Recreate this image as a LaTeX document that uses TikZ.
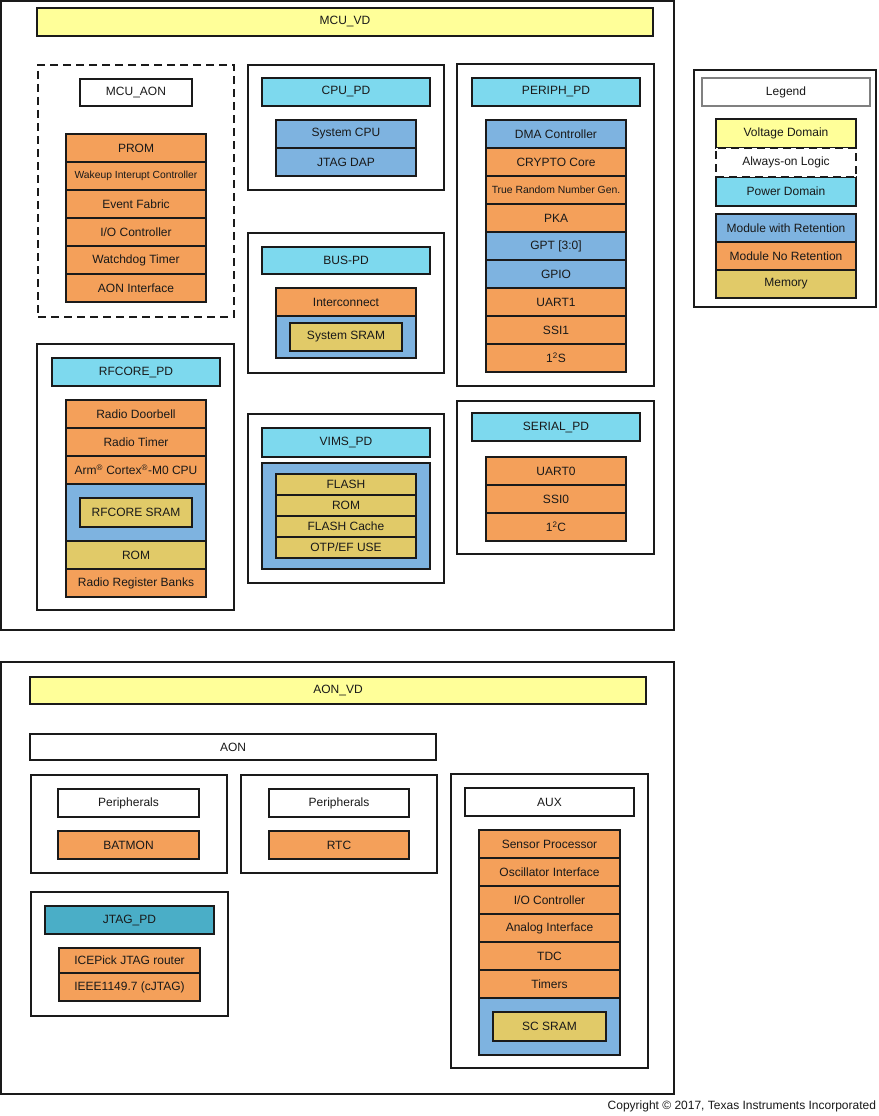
\documentclass[tikz,border=0pt]{standalone}
\usepackage{fontspec}
\setmainfont{Liberation Sans}
\definecolor{ln}{HTML}{1A1A1A}
\definecolor{vdc}{HTML}{FFFF99}
\definecolor{pdc}{HTML}{7DD9EE}
\definecolor{retc}{HTML}{7EB3E0}
\definecolor{norc}{HTML}{F4A05A}
\definecolor{memc}{HTML}{E1CA68}
\definecolor{jtc}{HTML}{4AAEC7}
\newcommand\bx[7][]{\node[#1, minimum width={(#4-#2)*1pt}, minimum height={(#5-#3)*1pt}] (#6) at ({(#2+#4)/2},{(#3+#5)/2}) {#7};}
\begin{document}
\begin{tikzpicture}[x=1pt,y=-1pt,
 every node/.style={inner sep=0pt, outer sep=0pt, font=\fontsize{12}{14}\selectfont, text=black!90},
 bx/.style={draw=ln, line width=1.3pt, rectangle},
 grp/.style={bx, fill=white},
 vd/.style={bx, fill=vdc},
 pd/.style={bx, fill=pdc},
 jpd/.style={bx, fill=jtc},
 ret/.style={bx, fill=retc},
 nor/.style={bx, fill=norc},
 mem/.style={bx, fill=memc},
 wht/.style={bx, fill=white},
 dsh/.style={bx, fill=white, dash pattern=on 8pt off 5pt},
 small/.style={font=\fontsize{10.3}{12}\selectfont},
 smaller/.style={font=\fontsize{10.4}{12}\selectfont}]
\fill[white] (0,0) rectangle (878,1116);
\useasboundingbox (0,0) rectangle (878,1116);
% ---------- MCU_VD ----------
\bx[grp]{1}{1}{674}{630}{mcuvd}{}
\bx[vd]{37}{8}{653}{36}{mcuvdl}{MCU\_VD}
% MCU_AON
\bx[dsh]{38}{65}{234}{317}{mcuaon}{}
\bx[wht]{80}{79}{192}{106}{mcuaonl}{MCU\_AON}
\bx[nor]{66}{134}{206}{162}{prom}{PROM}
\bx[nor,small]{66}{162}{206}{190}{wic}{Wakeup Interupt Controller}
\bx[nor]{66}{190}{206}{218}{evf}{Event Fabric}
\bx[nor]{66}{218}{206}{246}{ioc}{I/O Controller}
\bx[nor]{66}{246}{206}{274}{wdt}{Watchdog Timer}
\bx[nor]{66}{274}{206}{302}{aoni}{AON Interface}
% CPU_PD
\bx[grp]{248}{65}{444}{190}{cpupd}{}
\bx[pd]{262}{78}{430}{106}{cpupdl}{CPU\_PD}
\bx[ret]{276}{120}{416}{148}{scpu}{System CPU}
\bx[ret]{276}{148}{416}{176}{jdap}{JTAG DAP}
% BUS-PD
\bx[grp]{248}{233}{444}{373}{buspd}{}
\bx[pd]{262}{247}{430}{274}{buspdl}{BUS-PD}
\bx[nor]{276}{288}{416}{316}{icon}{Interconnect}
\bx[ret]{276}{316}{416}{358}{busret}{}
\bx[mem]{290}{323}{402}{351}{ssram}{System SRAM}
% PERIPH_PD
\bx[grp]{457}{64}{654}{386}{perpd}{}
\bx[pd]{472}{78}{640}{106}{perpdl}{PERIPH\_PD}
\bx[ret]{486}{120}{626}{148}{dma}{DMA Controller}
\bx[nor]{486}{148}{626}{176}{cry}{CRYPTO Core}
\bx[nor,smaller]{486}{176}{626}{204}{trng}{True Random Number Gen.}
\bx[nor]{486}{204}{626}{232}{pka}{PKA}
\bx[ret]{486}{232}{626}{260}{gpt}{GPT [3:0]}
\bx[ret]{486}{260}{626}{288}{gpio}{GPIO}
\bx[nor]{486}{288}{626}{316}{uart1}{UART1}
\bx[nor]{486}{316}{626}{344}{ssi1}{SSI1}
\bx[nor]{486}{344}{626}{372}{i2s}{1\textsuperscript{2}S}
% SERIAL_PD
\bx[grp]{457}{401}{654}{554}{serpd}{}
\bx[pd]{472}{413}{640}{441}{serpdl}{SERIAL\_PD}
\bx[nor]{486}{457}{626}{485}{uart0}{UART0}
\bx[nor]{486}{485}{626}{513}{ssi0}{SSI0}
\bx[nor]{486}{513}{626}{541}{i2c}{1\textsuperscript{2}C}
% RFCORE_PD
\bx[grp]{37}{344}{234}{610}{rfpd}{}
\bx[pd]{52}{358}{220}{386}{rfpdl}{RFCORE\_PD}
\bx[nor]{66}{400}{206}{428}{rdb}{Radio Doorbell}
\bx[nor]{66}{428}{206}{456}{rtm}{Radio Timer}
\bx[nor]{66}{456}{206}{484}{m0}{Arm\textsuperscript{®} Cortex\textsuperscript{®}-M0 CPU}
\bx[ret]{66}{484}{206}{541}{rfret}{}
\bx[mem]{80}{498}{192}{527}{rfsram}{RFCORE SRAM}
\bx[mem]{66}{541}{206}{569}{rfrom}{ROM}
\bx[nor]{66}{569}{206}{597}{rrb}{Radio Register Banks}
% VIMS_PD
\bx[grp]{248}{414}{444}{583}{vimspd}{}
\bx[pd]{262}{428}{430}{457}{vimspdl}{VIMS\_PD}
\bx[ret]{262}{463}{430}{569}{vimsret}{}
\bx[mem]{276}{474}{416}{495}{flash}{FLASH}
\bx[mem]{276}{495}{416}{516}{vrom}{ROM}
\bx[mem]{276}{516}{416}{537}{fcache}{FLASH Cache}
\bx[mem]{276}{537}{416}{558}{otp}{OTP/EF USE}
% ---------- Legend ----------
\bx[grp]{694}{70}{876}{307}{legend}{}
\node[draw=black!50, line width=1.3pt, fill=white, minimum width=168pt, minimum height=28pt] (legl) at (786,92) {Legend};
\bx[vd]{716}{119}{856}{148}{lvd}{Voltage Domain}
\bx[pd]{716}{177}{856}{206}{lpd}{Power Domain}
\bx[dsh]{716}{148}{856}{177}{laon}{Always-on Logic}
\bx[ret]{716}{214}{856}{242}{lret}{Module with Retention}
\bx[nor]{716}{242}{856}{270}{lnor}{Module No Retention}
\bx[mem]{716}{270}{856}{298}{lmem}{Memory}
% ---------- AON_VD ----------
\bx[grp]{1}{662}{674}{1094}{aonvd}{}
\bx[vd]{30}{677}{646}{704}{aonvdl}{AON\_VD}
\bx[wht]{30}{734}{436}{760}{aon}{AON}
% Peripherals 1
\bx[grp]{31}{775}{227}{873}{per1}{}
\bx[wht]{58}{789}{199}{817}{per1l}{Peripherals}
\bx[nor]{58}{831}{199}{859}{batmon}{BATMON}
% Peripherals 2
\bx[grp]{241}{775}{437}{873}{per2}{}
\bx[wht]{269}{789}{409}{817}{per2l}{Peripherals}
\bx[nor]{269}{831}{409}{859}{rtc}{RTC}
% JTAG_PD
\bx[grp]{31}{892}{228}{1016}{jtpd}{}
\bx[jpd]{45}{906}{214}{934}{jtpdl}{JTAG\_PD}
\bx[nor]{59}{948}{200}{973}{icep}{ICEPick JTAG router}
\bx[nor]{59}{973}{200}{1001}{ieee}{IEEE1149.7 (cJTAG)}
% AUX
\bx[grp]{451}{774}{648}{1068}{aux}{}
\bx[wht]{465}{788}{634}{816}{auxl}{AUX}
\bx[nor]{479}{830}{620}{858}{senp}{Sensor Processor}
\bx[nor]{479}{858}{620}{886}{osci}{Oscillator Interface}
\bx[nor]{479}{886}{620}{914}{aioc}{I/O Controller}
\bx[nor]{479}{914}{620}{942}{anai}{Analog Interface}
\bx[nor]{479}{942}{620}{970}{tdc}{TDC}
\bx[nor]{479}{970}{620}{998}{tmr}{Timers}
\bx[ret]{479}{998}{620}{1055}{auxret}{}
\bx[mem]{493}{1012}{606}{1041}{scsram}{SC SRAM}
% copyright
\node[anchor=east] (copy) at (876,1106) {Copyright © 2017, Texas Instruments Incorporated};
\end{tikzpicture}
\end{document}
